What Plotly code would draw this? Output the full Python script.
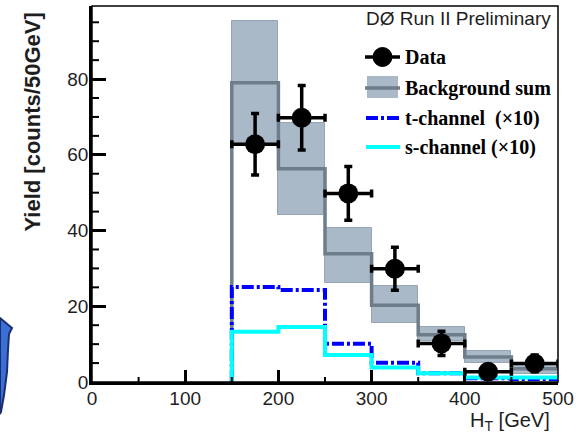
import plotly.graph_objects as go

# ---- data ----
edges = [150, 200, 250, 300, 350, 400, 450, 500]
centers = [175, 225, 275, 325, 375, 425, 475]
bkg = [79.0, 56.3, 33.9, 20.3, 12.5, 6.6, 3.5]
bkg_lo = [62.4, 44.0, 26.2, 15.6, 10.8, 5.0, 2.2]
bkg_hi = [95.3, 68.5, 40.6, 25.3, 14.5, 8.2, 5.0]
tchan = [25.1, 24.3, 10.1, 5.1, 2.3, 1.0, 0.8]
schan = [13.3, 14.5, 7.1, 3.8, 2.3, 1.2, 1.2]
data = [62.8, 69.8, 49.8, 29.9, 10.2, 2.7, 4.9]
data_err = [8.1, 8.5, 7.1, 5.7, 3.2, 1.7, 2.2]
bin_half = 25

x_major = [0, 100, 200, 300, 400, 500]
x_minor = [50, 150, 250, 350, 450]
y_major = [0, 20, 40, 60, 80]
y_minor = [5, 10, 15, 25, 30, 35, 45, 50, 55, 65, 70, 75, 85, 90, 95]

BAND = "#aab9c7"
BAND_EDGE = "#95a5b5"
GRAY = "#6e7d8a"
BLUE = "#0000ff"
CYAN = "#00ffff"
TXT = "#1e1e1e"

L, R, T, B = 92, 558, 6, 382
W, H = 579, 434
XMAX, YMAX = 500, 99.3


def px(x):
    return (x - L) / (R - L)


def py(y):
    return (B - y) / (B - T)


def step(vals):
    return [edges[0]] + edges, [0] + vals + [vals[-1]]


fig = go.Figure()

# background uncertainty band
fig.add_trace(go.Bar(
    x=centers, y=[h - l for h, l in zip(bkg_hi, bkg_lo)], base=bkg_lo,
    width=[2 * bin_half] * len(centers),
    marker=dict(color=BAND, line=dict(color=BAND_EDGE, width=1)),
    hoverinfo="skip",
))

# background sum
xs, ys = step(bkg)
fig.add_trace(go.Scatter(x=xs, y=ys, mode="lines", line_shape="hv",
                         line=dict(color=GRAY, width=3.5)))

# t-channel (x10)
xs, ys = step(tchan)
fig.add_trace(go.Scatter(x=xs, y=ys, mode="lines", line_shape="hv",
                         line=dict(color=BLUE, width=4, dash="12px,3px,3px,3px")))

# s-channel (x10)
xs, ys = step(schan)
fig.add_trace(go.Scatter(x=xs, y=ys, mode="lines", line_shape="hv",
                         line=dict(color=CYAN, width=4)))

# data
fig.add_trace(go.Scatter(
    x=centers, y=data, mode="markers",
    marker=dict(color="black", size=20, symbol="circle"),
    error_y=dict(type="data", array=data_err, color="black", thickness=3.5, width=4),
    error_x=dict(type="constant", value=bin_half, color="black", thickness=3.5, width=4),
))

tickfont = dict(family="Liberation Sans", size=19, color=TXT)

fig.update_layout(
    width=W, height=H,
    margin=dict(l=L, r=W - R, t=T, b=H - B),
    plot_bgcolor="white", paper_bgcolor="white",
    showlegend=False, bargap=0,
    xaxis=dict(range=[0, XMAX], showgrid=False, zeroline=False,
               showline=True, linecolor="black", linewidth=3,
               ticks="inside", ticklen=12, tickwidth=2.5, tickcolor="black",
               tickmode="array", tickvals=x_major,
               ticktext=[str(v) for v in x_major], tickfont=tickfont,
               ticklabelstandoff=-3),
    yaxis=dict(range=[0, YMAX], showgrid=False, zeroline=False,
               showline=True, linecolor="black", linewidth=2.5,
               ticks="inside", ticklen=14, tickwidth=2.5, tickcolor="black",
               tickmode="array", tickvals=y_major,
               ticktext=[str(v) for v in y_major], tickfont=tickfont,
               ticklabelstandoff=-3),
)

shapes = []
# frame
shapes.append(dict(type="rect", xref="paper", yref="paper", x0=0, x1=1, y0=0, y1=1,
                   line=dict(color="black", width=1.5), layer="above"))

# minor ticks (pixel lengths converted to paper fractions)
for v in x_minor:
    shapes.append(dict(type="line", xref="paper", yref="paper", x0=v / XMAX, x1=v / XMAX,
                       y0=0, y1=5 / (B - T), line=dict(color="black", width=2)))
for v in y_minor:
    shapes.append(dict(type="line", xref="paper", yref="paper", x0=0, x1=7 / (R - L),
                       y0=v / YMAX, y1=v / YMAX, line=dict(color="black", width=2)))

# legend symbols
shapes.append(dict(type="line", xref="paper", yref="paper", x0=px(365), x1=px(400), y0=py(57), y1=py(57),
                   line=dict(color="black", width=3.5)))
shapes.append(dict(type="circle", xref="paper", yref="paper", x0=px(373), x1=px(392), y0=py(66.5), y1=py(47.5),
                   fillcolor="black", line=dict(color="black", width=1)))
shapes.append(dict(type="rect", xref="paper", yref="paper", x0=px(367), x1=px(398), y0=py(98), y1=py(76),
                   fillcolor=BAND, line=dict(width=0)))
shapes.append(dict(type="line", xref="paper", yref="paper", x0=px(365), x1=px(400), y0=py(88), y1=py(88),
                   line=dict(color=GRAY, width=3.5)))
shapes.append(dict(type="line", xref="paper", yref="paper", x0=px(366), x1=px(400), y0=py(118), y1=py(118),
                   line=dict(color=BLUE, width=4, dash="12px,3px,3px,3px")))
shapes.append(dict(type="line", xref="paper", yref="paper", x0=px(366), x1=px(400), y0=py(147), y1=py(147),
                   line=dict(color=CYAN, width=4)))

# partial DØ logo at bottom-left
pts = [(0, 318), (12, 328), (9, 334), (8, 350), (7, 372), (4, 395), (1, 412), (0, 414)]
path = "M " + " L ".join(f"{px(x):.4f},{py(y):.4f}" for x, y in pts) + " Z"
shapes.append(dict(type="path", xref="paper", yref="paper", path=path,
                   fillcolor="#3c6fd6", line=dict(color="#1b2f70", width=2)))

fig.update_layout(shapes=shapes)

ann = []
legfont = dict(family="Liberation Serif", size=20, color="black")
for label, yy in [("Data", 57), ("Background sum", 88),
                  ("t-channel\u00a0\u00a0(×10)", 118), ("s-channel\u00a0(×10)", 147)]:
    ann.append(dict(xref="paper", yref="paper", x=px(403), y=py(yy), xanchor="left", yanchor="middle",
                    text=f"<b>{label}</b>", showarrow=False, font=legfont))

ann.append(dict(xref="paper", yref="paper", x=px(553), y=py(19), xanchor="right", yanchor="middle",
                text="DØ Run II Preliminary", showarrow=False,
                font=dict(family="Liberation Sans", size=19, color=TXT)))

ann.append(dict(xref="paper", yref="paper", x=px(32), y=py(11), xanchor="center", yanchor="top",
                text="<b>Yield [counts/50GeV]</b>", textangle=-90, showarrow=False,
                font=dict(family="Liberation Sans", size=22, color=TXT)))

ann.append(dict(xref="paper", yref="paper", x=px(552), y=py(421), xanchor="right", yanchor="middle",
                text="H<sub>T</sub> [GeV]", showarrow=False,
                font=dict(family="Liberation Sans", size=20, color=TXT)))

fig.update_layout(annotations=ann)

fig.write_html("out.html")
